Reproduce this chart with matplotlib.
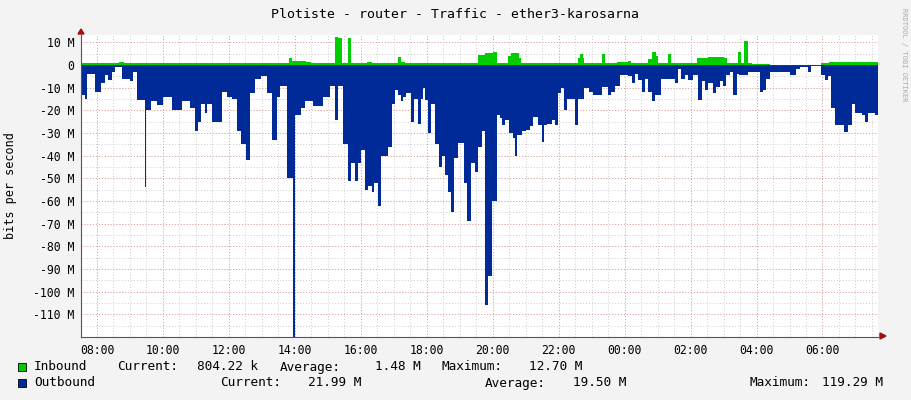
import numpy as np
import matplotlib
matplotlib.use("Agg")
import matplotlib.pyplot as plt

# step breakpoints: minutes after 07:31, value in Mbit/s
OUT_T = [0, 7, 11, 25, 36, 44, 50, 56, 62, 74, 89, 95, 101, 116, 119, 128, 138, 150, 165,
         183, 198, 207, 213, 219, 225, 230, 238, 256, 265, 274, 283, 292, 301, 308, 316, 328,
         338, 347, 356, 362, 374, 386, 389, 401, 407, 422, 441, 453, 462, 468, 477, 486,
         492, 498, 504, 510, 516, 522, 529, 533, 541, 545, 559, 565, 571, 577, 583, 586,
         592, 600, 606, 613, 618, 622, 625, 631, 636, 644, 652, 656, 662, 668, 674, 678,
         686, 696, 703, 709, 716, 722, 729, 735, 741, 747, 757, 762, 766, 771, 779, 786,
         789, 794, 803, 810, 816, 822, 832, 838, 842, 847, 856, 862, 868, 874, 878, 884,
         898, 904, 916, 925, 931, 944, 947, 956, 959, 965, 971, 980, 995, 1002, 1008, 1014,
         1020, 1026, 1032, 1038, 1044, 1056, 1074, 1080, 1086, 1092, 1098, 1104, 1113,
         1123, 1129, 1135, 1141, 1150, 1156, 1162, 1168, 1174, 1180, 1186, 1194, 1198,
         1213, 1235, 1241, 1247, 1253, 1289, 1301, 1308, 1323, 1329, 1347, 1353, 1359,
         1365, 1371, 1389, 1395, 1402, 1408, 1420, 1426, 1432, 1444, 1450]
OUT_V = [13, 15, 4, 12, 8, 4.4, 6.6, 3, 1, 6, 7, 3, 15.5, 54, 20, 16, 17.6, 14, 20,
         16, 19, 29, 25, 17, 21, 17, 25, 12, 14, 15, 29, 35, 42, 12.5, 6, 5,
         12.5, 33, 14, 9, 50, 120, 22, 19, 16, 18, 14, 9, 24, 9, 35, 51,
         43, 51, 43, 37.5, 55, 53.5, 56, 52, 62, 40, 36, 17, 11, 13, 16, 14,
         12.5, 25, 15, 26, 15, 10, 15.5, 30, 17, 35, 45, 40, 48.5, 56, 65, 41,
         34.5, 52, 69, 43, 47, 36, 29, 106, 93, 60, 22, 23.5, 26.5, 24, 30, 32,
         40, 31, 29, 28.7, 27, 23, 26.5, 34, 26.5, 26, 24, 26.5, 12.5, 10, 20, 15,
         26.5, 15, 10, 12, 13, 13, 9.5, 9.5, 13, 12, 9, 4.4, 5, 8, 3.7, 6.6,
         12, 6, 12, 16, 13, 6, 6, 8, 1.5, 6, 4.4, 6.6, 4.4,
         15.5, 7, 11, 8, 12.5, 9.5, 7, 9, 4.4, 3, 13, 3.7, 4.4,
         3, 12, 11, 6, 3, 4.4, 1.5, 0.7, 3, 0.3, 4.4, 6.6, 5,
         19, 26.5, 29.4, 26.5, 17, 21, 22, 25, 21, 22, 22]

IN_T = [0, 70, 78, 120, 150, 200, 240, 300, 310, 370, 378, 384, 392, 410, 418, 462, 468,
        474, 486, 492, 500, 520, 530, 577, 583, 590, 640, 722, 735, 750, 757, 777, 782,
        796, 800, 860, 904, 908, 913, 916, 947, 953, 975, 995, 1000, 1032, 1038, 1046,
        1050, 1068, 1074, 1113, 1120, 1140, 1170, 1176, 1195, 1201, 1207, 1213, 1220,
        1253, 1347, 1360, 1380, 1450]
IN_V = [0.8, 1.3, 0.8, 1.1, 0.8, 1.0, 0.8, 1.1, 0.8, 1.0, 3.0, 1.8, 2.0, 1.5, 0.8, 12.5, 12.0,
        1.0, 12.0, 1.0, 0.8, 1.2, 0.8, 3.5, 1.5, 1.0, 0.8, 4.5, 5.2, 6.0, 1.0, 4.0, 5.5,
        3.0, 1.0, 0.8, 3.0, 4.7, 3.0, 0.8, 5.0, 1.0, 1.2, 1.8, 0.8, 2.5, 6.0, 4.0,
        1.0, 5.0, 0.8, 1.0, 3.0, 3.5, 3.0, 0.8, 6.0, 0.8, 10.6, 1.0, 0.6,
        0.0, 0.8, 1.2, 1.3, 1.3]

START_H, START_M = 7, 31
Y_TICKS = [10, 0, -10, -20, -30, -40, -50, -60, -70, -80, -90, -100, -110]

GREEN, BLUE, BG = "#00CC00", "#002A97", "#F3F3F3"
MONO = "DejaVu Sans Mono"
FS = 9.2

fig = plt.figure(figsize=(9.11, 4.0), dpi=100, facecolor=BG)
ax = fig.add_axes([81 / 911, 63 / 400, 797 / 911, 302 / 400])
ax.set_facecolor("white")

ax.fill_between(OUT_T, 0, -np.array(OUT_V), step="post", color=BLUE, lw=0, zorder=2)
ax.fill_between(IN_T, 0, IN_V, step="post", color=GREEN, lw=0, zorder=2)

ax.set_xlim(0, 1450)
ax.set_ylim(-120, 13.3)

first = 60 - START_M  # minutes to 08:00
minor_x = np.arange(first, 1450, 30)
major_x = np.arange(first, 1450, 120)
for x in minor_x:
    ax.axvline(x, color="#CCCCCC", lw=0.7, ls=(0, (1, 2)), zorder=1)
for x in major_x:
    ax.axvline(x, color="#E8A0A0", lw=0.7, ls=(0, (1, 2)), zorder=1)
for y in np.arange(-115, 13, 5):
    ax.axhline(y, color="#CCCCCC", lw=0.7, ls=(0, (1, 2)), zorder=1)
for y in Y_TICKS:
    ax.axhline(y, color="#E8A0A0", lw=0.7, ls=(0, (1, 2)), zorder=1)

ax.set_xticks(major_x)
ax.set_xticklabels(["%02d:00" % ((START_H + 1 + 2 * i) % 24) for i in range(len(major_x))],
                   fontfamily=MONO, fontsize=8.3)
ax.set_yticks(Y_TICKS)
ax.set_yticklabels([("%d M" % v) if v else "0" for v in Y_TICKS], fontfamily=MONO, fontsize=8.3)
ax.tick_params(length=0, pad=5, colors="#000000")
for s in ["top", "right"]:
    ax.spines[s].set_visible(False)
for s in ["left", "bottom"]:
    ax.spines[s].set_color("#555555")
    ax.spines[s].set_linewidth(0.8)
ax.axhline(0, color="#555555", lw=0.6, ls=(0, (1, 2)), zorder=3)

# axis arrows
fig.patches.append(plt.Polygon([[78 / 911, 1 - 34 / 400], [84 / 911, 1 - 34 / 400], [81 / 911, 1 - 29 / 400]],
                               closed=True, color="#A01010", transform=fig.transFigure))
fig.patches.append(plt.Polygon([[880 / 911, 1 - 333 / 400], [880 / 911, 1 - 339 / 400], [886 / 911, 1 - 336 / 400]],
                               closed=True, color="#A01010", transform=fig.transFigure))

fig.text(455 / 911, 1 - 15 / 400, "Plotiste - router - Traffic - ether3-karosarna",
         ha="center", va="center", fontfamily=MONO, fontsize=9.5)
fig.text(11 / 911, 1 - 186 / 400, "bits per second", rotation=90, ha="center", va="center",
         fontfamily=MONO, fontsize=8.5)
fig.text(904 / 911, 1 - 8 / 400, "RRDTOOL / TOBI OETIKER", rotation=270, ha="center", va="top",
         fontfamily=MONO, fontsize=5, color="#AAAAAA")

# legend
for y, c in [(367, GREEN), (383, BLUE)]:
    fig.patches.append(plt.Rectangle((18 / 911, 1 - (y + 4) / 400), 8 / 911, 8 / 400, facecolor=c,
                                     edgecolor="black", lw=0.6, transform=fig.transFigure))
fig.text(34 / 911, 1 - 367 / 400, "Inbound", va="center", fontfamily=MONO, fontsize=FS)
for x, s in [(117, "Current:"), (197, "804.22 k"), (280, "Average:"), (375, "1.48 M"),
             (441, "Maximum:"), (529, "12.70 M")]:
    fig.text(x / 911, 1 - 367 / 400, s, va="center", fontfamily=MONO, fontsize=FS)
fig.text(34 / 911, 1 - 383 / 400, "Outbound", va="center", fontfamily=MONO, fontsize=FS)
for x, s in [(220, "Current:"), (308, "21.99 M"), (485, "Average:"), (573, "19.50 M"),
             (750, "Maximum:"), (822, "119.29 M")]:
    fig.text(x / 911, 1 - 383 / 400, s, va="center", fontfamily=MONO, fontsize=FS)

fig.savefig("out.png", dpi=100, facecolor=BG)
